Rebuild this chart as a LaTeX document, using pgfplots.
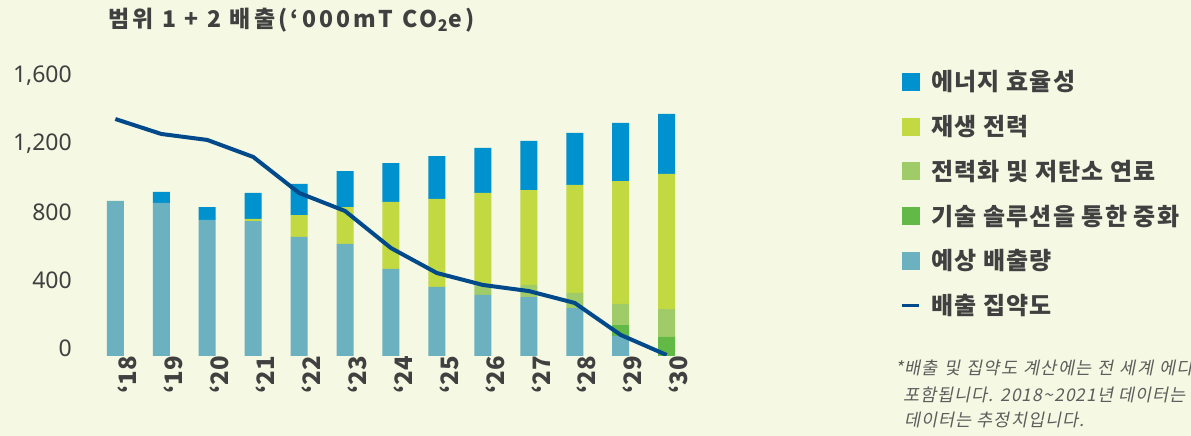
\documentclass[border=0pt]{standalone}
\usepackage{pgfplots}
\pgfplotsset{compat=1.18}
\usepackage{pgfplotstable}
\usepackage{fontspec}
\setmainfont{Noto Sans}
\newfontfamily\kr{Noto Sans CJK KR}
\newfontfamily\krsp[LetterSpace=14]{Noto Sans CJK KR}
\newfontfamily\krleg[LetterSpace=5]{Noto Sans CJK KR}
\newfontfamily\krit[FakeSlant=0.2,LetterSpace=6]{Noto Sans CJK KR}
\newfontfamily\kritw[FakeSlant=0.2,LetterSpace=7,WordSpace=1.2]{Noto Sans CJK KR}
\definecolor{bg}{HTML}{F5F8E2}
\definecolor{cblue}{HTML}{0091CF}
\definecolor{cyel}{HTML}{C2D941}
\definecolor{clg}{HTML}{9FCC69}
\definecolor{cdg}{HTML}{62B946}
\definecolor{cteal}{HTML}{6BB1BF}
\definecolor{cnavy}{HTML}{004A8C}
\definecolor{txt}{HTML}{404040}

\pgfplotstableread{
x teal dg lg yel blue line
0 912 0 0 0 0 1394
1 900 0 0 0 65 1306
2 800 0 0 0 76 1271
3 794 0 0 12 153 1171
4 700 0 0 129 183 959
5 659 0 0 217 212 853
6 512 0 0 394 229 635
7 406 0 0 518 252 488
8 359 0 59 541 265 418
9 347 0 71 558 289 382
10 282 0 89 635 306 312
11 118 64 124 723 342 124
12 0 112 164 795 353 6
}\datatable

\begin{document}
\begin{tikzpicture}
\path[use as bounding box] (0,0) rectangle (1191pt,436pt);
\fill[bg] (0,0) rectangle (1191pt,436pt);
\node[anchor=west, font=\krsp\bfseries\fontsize{23}{23}\selectfont, text=txt, inner sep=0] at (108pt,416pt) {범위 1 + 2 배출(‘000mT CO\textsubscript{2}e)};

\begin{axis}[
  at={(74pt,80pt)}, anchor=south west,
  scale only axis, width=611pt, height=272pt,
  xmin=-0.9, xmax=12.4, ymin=0, ymax=1600,
  axis line style={draw=none}, major tick length=0pt,
  ytick={0,400,800,1200,1600},
  /pgf/number format/.cd, 1000 sep={,}, assume math mode=true, /pgfplots/.cd,
  yticklabel style={font=\fontsize{23}{23}\selectfont, text=txt, anchor=east, inner sep=0pt, xshift=-2pt, yshift=8pt},
  xtick={0,...,12},
  xticklabels={‘18,‘19,‘20,‘21,‘22,‘23,‘24,‘25,‘26,‘27,‘28,‘29,‘30},
  xticklabel style={rotate=90, anchor=east, inner sep=0pt, yshift=-12pt, font=\kr\bfseries\fontsize{24}{24}\selectfont, text=txt},
  ybar stacked, bar width=17pt,
  legend style={at={(1.347,1.0647)}, anchor=north west, draw=none, fill=none,
    font=\krleg\bfseries\fontsize{24}{24}\selectfont, text=txt, row sep=19pt,
    /tikz/every odd column/.append style={column sep=9pt}},
  legend cell align=left,
]
\addplot[fill=cteal, draw=none, forget plot] table[x=x,y=teal]{\datatable};
\addplot[fill=cdg, draw=none, forget plot] table[x=x,y=dg]{\datatable};
\addplot[fill=clg, draw=none, forget plot] table[x=x,y=lg]{\datatable};
\addplot[fill=cyel, draw=none, forget plot] table[x=x,y=yel]{\datatable};
\addplot[fill=cblue, draw=none, forget plot] table[x=x,y=blue]{\datatable};
\addlegendimage{legend image code/.code={\fill[cblue] (0pt,-8.5pt) rectangle (17pt,8.5pt);}}
\addlegendentry{에너지 효율성}
\addlegendimage{legend image code/.code={\fill[cyel] (0pt,-8.5pt) rectangle (17pt,8.5pt);}}
\addlegendentry{재생 전력}
\addlegendimage{legend image code/.code={\fill[clg] (0pt,-8.5pt) rectangle (17pt,8.5pt);}}
\addlegendentry{전력화 및 저탄소 연료}
\addlegendimage{legend image code/.code={\fill[cdg] (0pt,-8.5pt) rectangle (17pt,8.5pt);}}
\addlegendentry{기술 솔루션을 통한 중화}
\addlegendimage{legend image code/.code={\fill[cteal] (0pt,-8.5pt) rectangle (17pt,8.5pt);}}
\addlegendentry{예상 배출량}
\addlegendimage{legend image code/.code={\draw[cnavy, line width=3pt] (0pt,0pt) -- (17pt,0pt);}}
\addlegendentry{배출 집약도}
\end{axis}

\begin{axis}[
  at={(74pt,80pt)}, anchor=south west,
  scale only axis, width=611pt, height=272pt,
  xmin=-0.9, xmax=12.4, ymin=0, ymax=1600,
  hide axis,
]
\addplot[cnavy, line width=4pt, no marks] table[x=x,y=line]{\datatable};
\end{axis}

\node[anchor=west, font=\kritw\fontsize{17.5}{17.5}\selectfont, text=txt!85, inner sep=0] at (895pt,68pt) {*배출 및 집약도 계산에는 전 세계 에디};
\node[anchor=west, font=\krit\fontsize{17.5}{17.5}\selectfont, text=txt!85, inner sep=0] at (903pt,41pt) {포함됩니다. 2018\textasciitilde2021년 데이터는};
\node[anchor=west, font=\krit\fontsize{17.5}{17.5}\selectfont, text=txt!85, inner sep=0] at (904pt,16pt) {데이터는 추정치입니다.};
\end{tikzpicture}
\end{document}
